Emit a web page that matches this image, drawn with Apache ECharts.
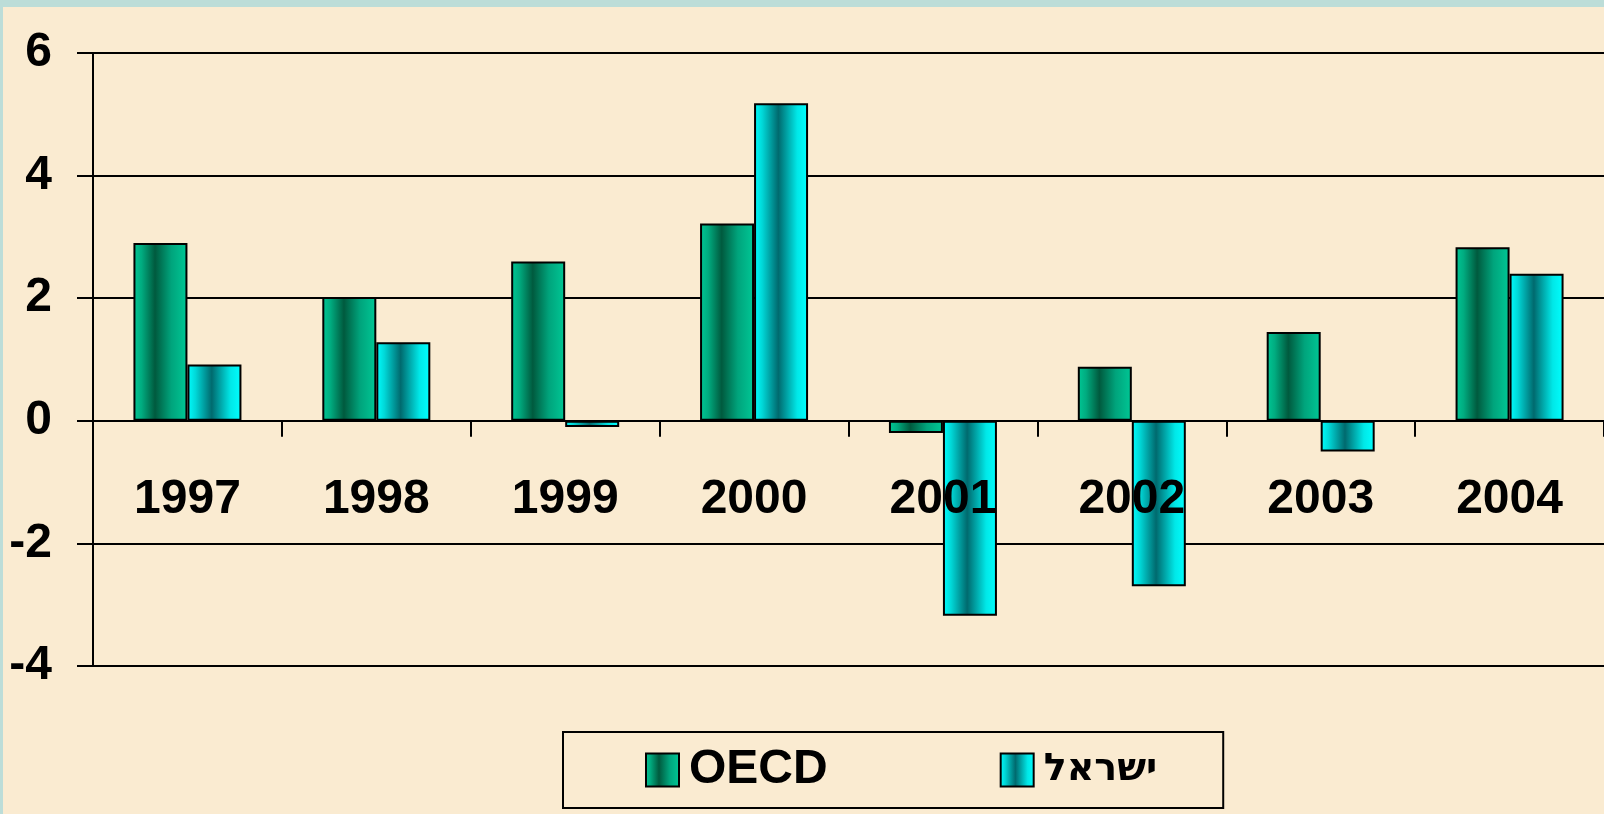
<!DOCTYPE html>
<html>
<head>
<meta charset="utf-8">
<script src="https://cdn.jsdelivr.net/npm/echarts@6/dist/echarts.min.js"></script>
<style>
html,body{margin:0;padding:0;background:#BCDDD8;}
#c{width:1604px;height:814px;}
</style>
</head>
<body>
<div id="c"></div>
<script>
var categories = ['1997','1998','1999','2000','2001','2002','2003','2004'];
var oecdValues = [2.9, 2.02, 2.6, 3.22, -0.2, 0.88, 1.45, 2.83];
var israelValues = [0.92, 1.28, -0.1, 5.18, -3.18, -2.7, -0.5, 2.4];
var seriesNames = ['OECD', 'ישראל'];
var yTicks = {min: -4, max: 6, interval: 2};

var font = '"Liberation Sans", Arial, sans-serif';
var hebFont = '"DejaVu Sans", "Liberation Sans", sans-serif';
var oecdGrad = new echarts.graphic.LinearGradient(0, 0, 1, 0, [
  {offset: 0, color: '#00C896'},
  {offset: 0.15, color: '#00AC80'},
  {offset: 0.4, color: '#005A3E'},
  {offset: 0.7, color: '#00A47C'},
  {offset: 1, color: '#00C896'}
]);
var israelGrad = new echarts.graphic.LinearGradient(0, 0, 1, 0, [
  {offset: 0, color: '#00FFFF'},
  {offset: 0.15, color: '#00D8D8'},
  {offset: 0.45, color: '#006A6E'},
  {offset: 0.8, color: '#00E8E8'},
  {offset: 1, color: '#00FFFF'}
]);

var chart = echarts.init(document.getElementById('c'), null, {renderer: 'canvas'});
chart.setOption({
  backgroundColor: '#BCDDD8',
  animation: false,
  graphic: [{
    type: 'rect', left: 3, top: 7, z: -10,
    shape: {width: 1601, height: 807},
    style: {fill: '#FAEBD1'}
  }],
  grid: {left: 93, top: 53, width: 1523, height: 613, containLabel: false},
  legend: {
    left: 563, top: 732,
    padding: [14, 66, 14, 82],
    borderColor: '#000', borderWidth: 2,
    itemWidth: 33, itemHeight: 33, itemGap: 172,
    icon: 'rect',
    textStyle: {fontFamily: font, fontWeight: 'bold', fontSize: 48, color: '#000', padding: [0,0,0,5]},
    data: [
      {name: seriesNames[0]},
      {name: seriesNames[1], textStyle: {fontFamily: hebFont, fontWeight: 'bold', fontSize: 38, color: '#000'}}
    ]
  },
  xAxis: {
    type: 'category', data: categories, z: 5,
    axisLine: {onZero: true, lineStyle: {color: '#000', width: 2}},
    axisTick: {show: true, length: 16, lineStyle: {color: '#000', width: 2}},
    axisLabel: {fontFamily: font, fontWeight: 'bold', fontSize: 48, color: '#000', margin: -190}
  },
  yAxis: {
    type: 'value', min: yTicks.min, max: yTicks.max, interval: yTicks.interval,
    axisLine: {show: true, lineStyle: {color: '#000', width: 2}},
    axisTick: {show: true, length: 16, lineStyle: {color: '#000', width: 2}},
    splitLine: {show: true, lineStyle: {color: '#000', width: 2}},
    axisLabel: {fontFamily: font, fontWeight: 'bold', fontSize: 48, color: '#000', margin: 41}
  },
  series: [
    {name: seriesNames[0], type: 'bar', data: oecdValues, barWidth: 54, barGap: '0%',
     itemStyle: {color: oecdGrad, borderColor: '#000', borderWidth: 2}},
    {name: seriesNames[1], type: 'bar', data: israelValues, barWidth: 54, barGap: '0%',
     itemStyle: {color: israelGrad, borderColor: '#000', borderWidth: 2}}
  ]
});
</script>
</body>
</html>
